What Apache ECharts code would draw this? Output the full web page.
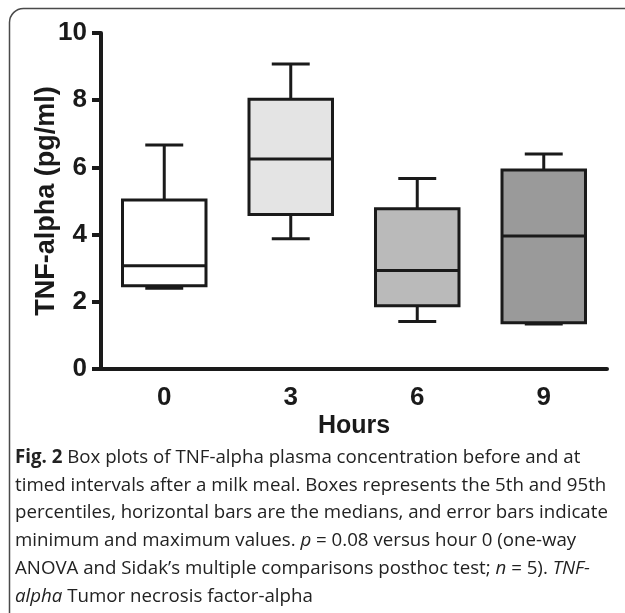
<!DOCTYPE html>
<html>
<head>
<meta charset="utf-8">
<script src="https://cdn.jsdelivr.net/npm/echarts@6/dist/echarts.min.js"></script>
<style>
html,body{margin:0;padding:0;background:#fff;}
#c{width:625px;height:613px;}
</style>
</head>
<body>
<div id="c"></div>
<script>
const categories = ['0', '3', '6', '9'];
const minValues = [2.40, 3.88, 1.41, 1.34];
const q1Values = [2.48, 4.60, 1.88, 1.38];
const medianValues = [3.07, 6.25, 2.93, 3.96];
const q3Values = [5.03, 8.03, 4.77, 5.92];
const maxValues = [6.67, 9.08, 5.67, 6.40];
const yTicks = [0, 2, 4, 6, 8, 10];

const boxFills = ['#ffffff', '#e4e4e4', '#bababa', '#9a9a9a'];
const ink = '#1a1a1a';

const seriesData = categories.map((c, i) => [i, minValues[i], q1Values[i], medianValues[i], q3Values[i], maxValues[i]]);

function renderItem(params, api) {
  const idx = api.value(0);
  const band = api.size([1, 0])[0];
  const bw = band * 0.66, cw = band * 0.30;
  const pMin = api.coord([idx, api.value(1)]);
  const pQ1 = api.coord([idx, api.value(2)]);
  const pMed = api.coord([idx, api.value(3)]);
  const pQ3 = api.coord([idx, api.value(4)]);
  const pMax = api.coord([idx, api.value(5)]);
  const x = pMed[0];
  const ls = {stroke: ink, lineWidth: 3, lineCap: 'butt'};
  return {
    type: 'group',
    children: [
      {type: 'line', shape: {x1: x, y1: pQ3[1], x2: x, y2: pMax[1]}, style: ls},
      {type: 'line', shape: {x1: x - cw / 2, y1: pMax[1], x2: x + cw / 2, y2: pMax[1]}, style: ls},
      {type: 'line', shape: {x1: x, y1: pQ1[1], x2: x, y2: pMin[1]}, style: ls},
      {type: 'line', shape: {x1: x - cw / 2, y1: pMin[1], x2: x + cw / 2, y2: pMin[1]}, style: ls},
      {type: 'rect', shape: {x: x - bw / 2, y: pQ3[1], width: bw, height: pQ1[1] - pQ3[1]},
        style: {fill: boxFills[idx], stroke: ink, lineWidth: 3}},
      {type: 'line', shape: {x1: x - bw / 2, y1: pMed[1], x2: x + bw / 2, y2: pMed[1]}, style: ls}
    ]
  };
}

const captionLines = [
  [{t: 'Fig. 2', s: 'b'}, {t: ' Box plots of TNF-alpha plasma concentration before and at', s: 'n'}],
  [{t: 'timed intervals after a milk meal. Boxes represents the 5th and 95th', s: 'n'}],
  [{t: 'percentiles, horizontal bars are the medians, and error bars indicate', s: 'n'}],
  [{t: 'minimum and maximum values. ', s: 'n'}, {t: 'p', s: 'i'}, {t: ' = 0.08 versus hour 0 (one-way', s: 'n'}],
  [{t: 'ANOVA and Sidak\u2019s multiple comparisons posthoc test; ', s: 'n'}, {t: 'n', s: 'i'}, {t: ' = 5). ', s: 'n'}, {t: 'TNF-', s: 'i'}],
  [{t: 'alpha', s: 'i'}, {t: ' Tumor necrosis factor-alpha', s: 'n'}]
];

const capFont = '"Open Sans", "Noto Sans", sans-serif';
const capSize = 18.7;
const captionGraphics = captionLines.map((segs, k) => ({
  type: 'text',
  left: 15,
  top: 448 + k * 27.8,
  style: {
    text: segs.map(sg => '{' + sg.s + '|' + sg.t + '}').join(''),
    rich: {
      n: {fontFamily: capFont, fontSize: capSize, fill: '#222', fontWeight: 'normal'},
      b: {fontFamily: capFont, fontSize: capSize, fill: '#222', fontWeight: 'bold'},
      i: {fontFamily: capFont, fontSize: capSize, fill: '#222', fontStyle: 'italic'}
    }
  }
}));

const chart = echarts.init(document.getElementById('c'), null, {renderer: 'canvas'});
chart.setOption({
  animation: false,
  backgroundColor: '#fff',
  grid: {left: 101, top: 33, width: 506, height: 336, containLabel: false},
  xAxis: {
    type: 'category',
    data: categories,
    name: 'Hours',
    nameLocation: 'middle',
    nameGap: 45,
    nameMoveOverlap: false,
    nameTextStyle: {fontFamily: 'Liberation Sans, Arial, sans-serif', fontWeight: 'bold', fontSize: 25, color: ink},
    axisLine: {lineStyle: {color: ink, width: 4}},
    axisTick: {alignWithLabel: true, length: 9, lineStyle: {color: ink, width: 4}},
    axisLabel: {margin: 16, fontFamily: 'Liberation Sans, Arial, sans-serif', fontWeight: 'bold', fontSize: 26, color: ink},
    splitLine: {show: false}
  },
  yAxis: {
    type: 'value',
    min: 0, max: 10, interval: 2,
    name: 'TNF-alpha (pg/ml)',
    nameLocation: 'middle',
    nameGap: 41,
    nameMoveOverlap: false,
    nameTextStyle: {fontFamily: 'Liberation Sans, Arial, sans-serif', fontWeight: 'bold', fontSize: 27, color: ink},
    axisLine: {show: true, lineStyle: {color: ink, width: 4}},
    axisTick: {show: true, length: 9, lineStyle: {color: ink, width: 4}},
    axisLabel: {margin: 14, fontFamily: 'Liberation Sans, Arial, sans-serif', fontWeight: 'bold', fontSize: 26, color: ink,
      formatter: v => yTicks.includes(v) ? String(v) : ''},
    splitLine: {show: false}
  },
  series: [{
    type: 'custom',
    renderItem: renderItem,
    encode: {x: 0, y: [1, 2, 3, 4, 5]},
    data: seriesData,
    z: 3
  }],
  graphic: [
    {type: 'rect', shape: {x: 9.5, y: 8.5, width: 640, height: 625, r: 14},
      style: {fill: 'none', stroke: '#4a4a4a', lineWidth: 1.5}, z: 100},
    ...captionGraphics
  ]
});
</script>
</body>
</html>
